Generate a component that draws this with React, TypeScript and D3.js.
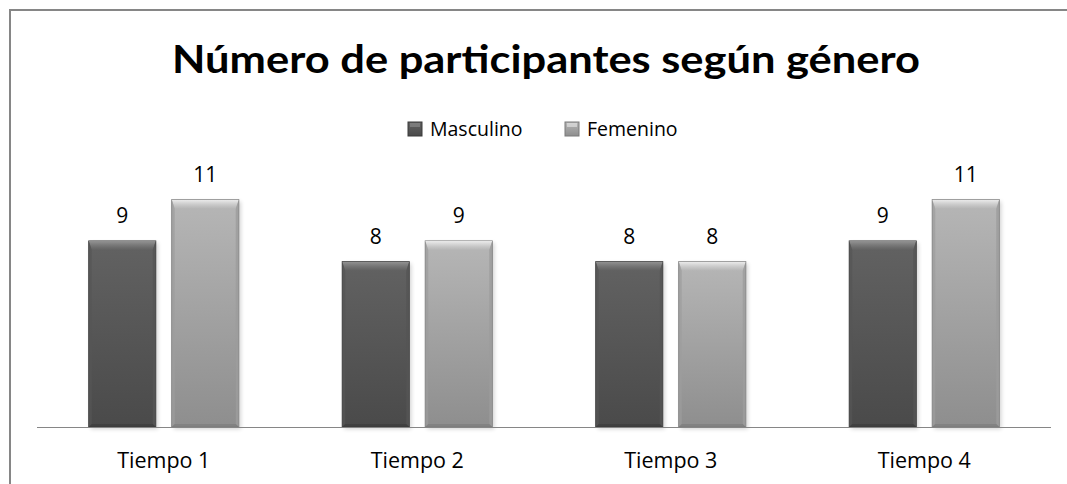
import React from "react";
import * as d3 from "d3";

const categories = ["Tiempo 1", "Tiempo 2", "Tiempo 3", "Tiempo 4"];
const seriesNames = ["Masculino", "Femenino"];
const masculino = [9, 8, 8, 9];
const femenino = [11, 9, 8, 11];
const title = "Número de participantes según género";

const W = 1067;
const H = 484;
const TITLE_FONT = "Lato, 'Open Sans', sans-serif";
const FONT = "'Open Sans', Lato, sans-serif";

const palettes: Record<string, { top: string; bottom: string; bevel: string; side: string; edge: string }> = {
  Masculino: { top: "#626262", bottom: "#4a4a4a", bevel: "#9a9a9a", side: "#555555", edge: "#3a3a3a" },
  Femenino: { top: "#b6b6b6", bottom: "#8e8e8e", bevel: "#f4f4f4", side: "#9c9c9c", edge: "#7a7a7a" },
};

function Bar({ x, y, w, h, s, id }: { x: number; y: number; w: number; h: number; s: string; id: string }) {
  const p = palettes[s];
  const bt = 9;
  const bs = 3;
  return (
    <g>
      <rect x={x + 2} y={y + 2} width={w} height={h} fill="#000" opacity={0.18} filter="url(#shadow)" />
      <rect x={x} y={y} width={w} height={h} fill={`url(#face-${id})`} stroke={p.edge} strokeWidth={1} />
      <polygon
        points={`${x},${y} ${x + w},${y} ${x + w - bs},${y + bt} ${x + bs},${y + bt}`}
        fill={`url(#bevel-${id})`}
      />
      <polygon points={`${x},${y} ${x + bs},${y + bt} ${x + bs},${y + h - bs} ${x},${y + h}`} fill={p.side} opacity={0.7} />
      <polygon
        points={`${x + w},${y} ${x + w - bs},${y + bt} ${x + w - bs},${y + h - bs} ${x + w},${y + h}`}
        fill={p.side}
        opacity={0.8}
      />
      <polygon
        points={`${x},${y + h} ${x + bs},${y + h - bs} ${x + w - bs},${y + h - bs} ${x + w},${y + h}`}
        fill={p.edge}
        opacity={0.6}
      />
    </g>
  );
}

export default function App() {
  const baseY = 427;
  const x0 = d3.scaleBand<string>().domain(categories).range([37, 1051]).paddingInner(0).paddingOuter(0);
  const x1 = d3
    .scaleBand<string>()
    .domain(seriesNames)
    .range([0, x0.bandwidth()])
    .paddingInner(0.193)
    .paddingOuter(0.6235);
  const y = d3.scaleLinear().domain([0, 12]).range([baseY, baseY - 12 * 20.67]);
  const data = [masculino, femenino];
  const legendX = [408, 565];

  return (
    <div style={{ position: "fixed", left: 0, top: 0, width: W, height: H, overflow: "hidden", background: "#fff" }}>
      <svg width={W} height={H} style={{ display: "block" }} fontFamily={FONT}>
        <defs>
          <filter id="shadow" x="-20%" y="-20%" width="140%" height="140%">
            <feGaussianBlur stdDeviation="2" />
          </filter>
          {seriesNames.map((s, i) => (
            <React.Fragment key={s}>
              <linearGradient id={`face-${i}`} x1="0" y1="0" x2="0" y2="1">
                <stop offset="0" stopColor={palettes[s].top} />
                <stop offset="1" stopColor={palettes[s].bottom} />
              </linearGradient>
              <linearGradient id={`bevel-${i}`} x1="0" y1="0" x2="0" y2="1">
                <stop offset="0" stopColor={palettes[s].bevel} stopOpacity={0.9} />
                <stop offset="1" stopColor={palettes[s].top} stopOpacity={0.6} />
              </linearGradient>
            </React.Fragment>
          ))}
        </defs>
        <rect x={0} y={0} width={W} height={H} fill="#fff" />
        <path d={`M10,${H} L10,10 L${W},10`} fill="none" stroke="#868686" strokeWidth={2} />

        <text
          x={546}
          y={73}
          textAnchor="middle"
          fontFamily={TITLE_FONT}
          fontSize={39}
          fontWeight="bold"
          fill="#000"
          textLength={748}
          lengthAdjust="spacingAndGlyphs"
        >
          {title}
        </text>

        {seriesNames.map((s, i) => {
          const lx = legendX[i];
          return (
            <g key={s}>
              <rect x={lx} y={122} width={14} height={14} fill={`url(#face-${i})`} stroke={palettes[s].edge} strokeWidth={1} />
              <rect x={lx + 2} y={123} width={10} height={4} fill={palettes[s].bevel} opacity={0.5} />
              <text x={lx + 22} y={136} fontSize={19.5} fill="#000">
                {s}
              </text>
            </g>
          );
        })}

        {categories.map((c, ci) => (
          <g key={c} transform={`translate(${x0(c)},0)`}>
            {seriesNames.map((s, si) => {
              const v = data[si][ci];
              const bx = x1(s)!;
              const by = y(v);
              return (
                <g key={s}>
                  <Bar x={bx} y={by} w={x1.bandwidth()} h={baseY - by} s={s} id={String(si)} />
                  <text x={bx + x1.bandwidth() / 2} y={by - 18} textAnchor="middle" fontSize={21} fill="#000">
                    {v}
                  </text>
                </g>
              );
            })}
          </g>
        ))}

        <line x1={37} x2={1051} y1={baseY + 0.5} y2={baseY + 0.5} stroke="#868686" strokeWidth={1} />
        {categories.map((c) => (
          <text key={c} x={x0(c)! + x0.bandwidth() / 2} y={468} textAnchor="middle" fontSize={21.5} fill="#000">
            {c}
          </text>
        ))}
      </svg>
    </div>
  );
}
